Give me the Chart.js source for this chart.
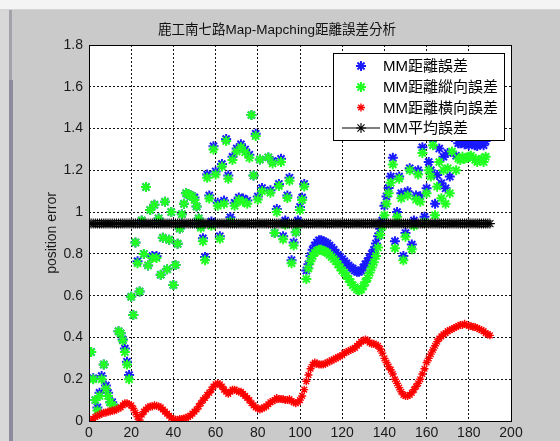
<!DOCTYPE html>
<html>
<head>
<meta charset="utf-8">
<script src="https://cdn.jsdelivr.net/npm/chart.js@4.4.1/dist/chart.umd.min.js"></script>
<style>
  html, body { margin: 0; padding: 0; background: #cacaca; }
  body { width: 560px; height: 441px; position: relative; overflow: hidden; }
  #topbar { position: absolute; left: 0; top: 0; width: 560px; height: 9px; background: #f4f4f4; border-bottom: 1px solid #d6d6d6; }
  #edgeA { position: absolute; left: 0; top: 10px; width: 9px; height: 431px; background: #d8d8d8; }
  #edgeB { position: absolute; left: 9px; top: 10px; width: 3px; height: 431px; background: #a2a2aa; }
  #edgeC { position: absolute; left: 9px; top: 80px; width: 4px; height: 361px; background: #8e8c9c; }
  canvas { position: absolute; left: 0; top: 0; }
</style>
</head>
<body>
<div id="topbar"></div><div id="edgeA"></div><div id="edgeB"></div><div id="edgeC"></div>
<canvas id="chart" width="560" height="441"></canvas>
<script>
// sample number along the route
const sampleNo = Array.from({ length: 190 }, (_, i) => i + 1);

// map-matching distance error
const distErr = [
  0.33, 0.205, 0.10, 0.065, 0.135, 0.215, 0.27, 0.17, 0.135, 0.09,
  0.09, 0.065, null, 0.43, 0.42, 0.39, 0.347, 0.284, 0.22, 0.595,
  0.507, 0.855, 0.765, 0.62, 0.96, 0.80, 1.12, 0.745, 1.01, 0.79,
  1.035, 0.79, 0.97, 0.70, 0.877, 1.05, 0.726, 0.868, 1.0, 0.651,
  0.747, 0.848, 0.922, 0.99, 1.04, 1.09, 1.085, 1.08, 1.075, 1.07,
  1.027, 0.97, 0.935, 0.875, 0.785, 1.18, 1.08, 0.955, 1.315, 1.195,
  1.045, 0.885, 1.23, 1.055, 1.35, 1.175, 0.975, 1.265, 1.045, 1.305,
  1.07, 1.325, 1.065, 1.30, 1.055, 1.275, 1.465, 1.175, 1.375, 1.075,
  1.252, 1.115, null, null, 1.262, 1.105, 1.245, 0.90, 1.015, 1.135,
  1.255, 0.885, 0.96, 1.08, 1.165, 0.77, 0.855, 0.903, 0.96, 1.025,
  1.07, 1.135, 0.72, 0.75, 0.79, 0.82, 0.84, 0.855, 0.865, 0.865,
  0.86, 0.855, 0.85, 0.84, 0.83, 0.82, 0.805, 0.795, 0.785, 0.775,
  0.765, 0.755, 0.745, 0.735, 0.73, 0.72, 0.715, 0.715, 0.72, 0.735,
  0.75, 0.765, 0.78, 0.80, 0.82, 0.85, 0.885, 0.92, 0.96, 1.03,
  1.075, 1.115, 1.17, 1.26, 0.86, 1.0, 1.17, 1.09, 0.79, 0.90,
  1.10, 1.21, 0.845, 0.96, 1.08, 1.20, 1.076, 1.31, 0.978, 1.114,
  1.24, 1.20, 1.35, 1.04, 1.178, 1.304, 1.138, 1.265, 1.114, 1.283,
  1.17, 1.36, null, 1.27, 1.33, 1.33, 1.34, 1.325, 1.33, 1.32,
  1.335, 1.33, 1.32, 1.316, 1.33, 1.33, 1.32, 1.34, null, null
];

// longitudinal component
const longErr = [
  0.33, 0.20, 0.10, 0.05, 0.12, 0.20, 0.27, 0.155, 0.12, 0.09,
  0.075, 0.065, null, 0.43, 0.42, 0.385, 0.33, 0.27, 0.20, 0.595,
  0.507, 0.855, 0.755, 0.62, 0.96, 0.80, 1.12, 0.745, 1.01, 0.78,
  1.035, 0.78, 0.97, 0.70, 0.877, 1.05, 0.726, 0.868, 1.0, 0.651,
  0.747, 0.848, 0.922, 0.99, 1.04, 1.09, 1.085, 1.08, 1.075, 1.058,
  1.027, 0.97, 0.925, 0.86, 0.77, 1.165, 1.065, 0.935, 1.30, 1.18,
  1.03, 0.872, 1.218, 1.04, 1.34, 1.16, 0.955, 1.25, 1.03, 1.29,
  1.058, 1.31, 1.05, 1.286, 1.04, 1.26, 1.465, 1.175, 1.364, 1.06,
  1.252, 1.10, null, null, 1.262, 1.093, 1.233, 0.90, 1.0, 1.125,
  1.24, 0.87, 0.94, 1.068, 1.15, 0.755, 0.84, 0.903, 0.94, 1.01,
  1.058, 1.123, 0.68, 0.73, 0.765, 0.79, 0.805, 0.815, 0.82, 0.82,
  0.815, 0.81, 0.805, 0.795, 0.785, 0.775, 0.765, 0.75, 0.735, 0.72,
  0.71, 0.695, 0.68, 0.665, 0.65, 0.64, 0.63, 0.625, 0.63, 0.645,
  0.665, 0.685, 0.71, 0.735, 0.76, 0.79, 0.83, 0.89, 0.93, 0.985,
  1.04, 1.09, 1.14, 1.228, 0.827, 0.978, 1.16, 1.066, 0.77, 0.882,
  1.08, 1.20, 0.822, 0.935, 1.06, 1.18, 1.05, 1.283, 0.95, 1.09,
  1.20, 1.17, 1.32, 0.985, 1.122, 1.24, 1.066, 1.20, 1.04, 1.21,
  1.09, 1.29, null, 1.20, 1.257, 1.25, 1.265, 1.255, 1.26, 1.265,
  1.27, 1.26, 1.25, 1.24, 1.25, 1.255, 1.24, 1.265, null, null
];

// lateral component
const latErr = [
  0.005, 0.01, 0.02, 0.025, 0.03, 0.035, 0.04, 0.04, 0.045, 0.045,
  0.05, 0.05, 0.055, 0.06, 0.065, 0.075, 0.085, 0.085, 0.08, 0.075,
  0.06, 0.04, 0.02, 0.005, 0.03, 0.045, 0.055, 0.065, 0.07, 0.07,
  0.075, 0.073, 0.07, 0.065, 0.055, 0.045, 0.035, 0.025, 0.015, 0.01,
  0.006, 0.005, 0.01, 0.01, 0.012, 0.015, 0.02, 0.025, 0.035, 0.045,
  0.055, 0.07, 0.085, 0.10, 0.11, 0.125, 0.135, 0.15, 0.165, 0.175,
  0.18, 0.175, 0.165, 0.15, 0.14, 0.13, 0.14, 0.15, 0.15, 0.145,
  0.14, 0.14, 0.13, 0.12, 0.11, 0.10, 0.085, 0.075, 0.065, 0.06,
  0.055, 0.06, 0.065, 0.07, 0.08, 0.09, 0.095, 0.10, 0.11, 0.105,
  0.105, 0.105, 0.10, 0.10, 0.105, 0.095, 0.09, 0.085, 0.09, 0.10,
  0.12, 0.15, 0.19, 0.22, 0.25, 0.27, 0.28, 0.275, 0.27, 0.27,
  0.27, 0.275, 0.28, 0.285, 0.29, 0.295, 0.30, 0.305, 0.31, 0.315,
  0.325, 0.33, 0.335, 0.34, 0.345, 0.35, 0.36, 0.37, 0.38, 0.385,
  0.39, 0.385, 0.375, 0.37, 0.37, 0.365, 0.36, 0.345, 0.325, 0.30,
  0.28, 0.26, 0.245, 0.225, 0.20, 0.18, 0.16, 0.14, 0.125, 0.12,
  0.12, 0.125, 0.135, 0.15, 0.165, 0.18, 0.20, 0.225, 0.25, 0.28,
  0.30, 0.32, 0.34, 0.36, 0.38, 0.395, 0.405, 0.415, 0.42, 0.43,
  0.435, 0.44, 0.445, 0.45, 0.455, 0.46, 0.46, 0.465, 0.46, 0.455,
  0.455, 0.45, 0.45, 0.445, 0.44, 0.435, 0.43, 0.42, 0.415, 0.41
];

// mean map-matching error over the whole run
const meanErr = 0.945;

const xTicks = [0, 20, 40, 60, 80, 100, 120, 140, 160, 180, 200];
const yTicks = [0, 0.2, 0.4, 0.6, 0.8, 1.0, 1.2, 1.4, 1.6, 1.8];

const chartTitle = '鹿工南七路Map-Mapching距離誤差分析';
const yTitle = 'position error';

const LATIN = "'Liberation Sans', Arial, sans-serif";
const MIXED = "'Liberation Sans', Arial, 'Noto Sans CJK TC', 'Noto Sans CJK SC', sans-serif";

const toPoints = ys => sampleNo.map((x, i) => ({ x, y: ys[i] })).filter(p => p.y !== null);

function drawStar(ctx, x, y, r) {
  ctx.beginPath();
  for (let k = 0; k < 4; k++) {
    const a = k * Math.PI / 4;
    ctx.moveTo(x - r * Math.cos(a), y - r * Math.sin(a));
    ctx.lineTo(x + r * Math.cos(a), y + r * Math.sin(a));
  }
  ctx.stroke();
}

// white plot box, solid frame, legend box and title
const matlabFrame = {
  id: 'matlabFrame',
  beforeDraw(chart) {
    const ctx = chart.ctx, a = chart.chartArea;
    ctx.save();
    ctx.fillStyle = '#ffffff';
    ctx.fillRect(a.left, a.top, a.right - a.left, a.bottom - a.top);
    ctx.restore();
  },
  afterDatasetsDraw(chart) {
    const ctx = chart.ctx, a = chart.chartArea;
    ctx.save();
    ctx.strokeStyle = '#000';
    ctx.lineWidth = 1;
    ctx.setLineDash([]);
    ctx.strokeRect(Math.round(a.left) + 0.5, Math.round(a.top) + 0.5,
                   Math.round(a.right - a.left), Math.round(a.bottom - a.top));

    // legend
    const box = { left: 333.5, top: 53.5, width: 171, height: 87 };
    ctx.fillStyle = '#ffffff';
    ctx.fillRect(box.left, box.top, box.width, box.height);
    ctx.strokeStyle = '#000';
    ctx.strokeRect(box.left, box.top, box.width, box.height);
    const rows = [66, 87, 107.5, 128];
    ctx.font = '15px ' + MIXED;
    ctx.textBaseline = 'middle';
    ctx.textAlign = 'left';
    chart.data.datasets.forEach((ds, i) => {
      const cy = rows[i];
      ctx.strokeStyle = ds.pointBorderColor;
      if (ds.showLine) {
        ctx.lineWidth = ds.borderWidth;
        ctx.beginPath(); ctx.moveTo(342, cy); ctx.lineTo(380, cy); ctx.stroke();
      }
      ctx.lineWidth = ds.pointBorderWidth;
      drawStar(ctx, 361, cy, ds.pointRadius);
      ctx.fillStyle = '#000';
      ctx.fillText(ds.label, 383, cy + 1);
    });

    // title
    ctx.font = '13.5px ' + MIXED;
    ctx.fillStyle = '#111';
    ctx.textAlign = 'center';
    ctx.textBaseline = 'middle';
    ctx.fillText(chartTitle, 277, 30);
    ctx.restore();
  }
};

const dottedGrid = { display: true, color: '#141414', lineWidth: 1, drawTicks: false, drawOnChartArea: true };

new Chart(document.getElementById('chart'), {
  type: 'scatter',
  data: {
    datasets: [
      { label: 'MM距離誤差', data: toPoints(distErr), showLine: false,
        pointStyle: 'star', pointRadius: 5, pointBorderWidth: 2,
        pointBorderColor: '#1a1aff', borderColor: '#1a1aff', order: 4 },
      { label: 'MM距離縱向誤差', data: toPoints(longErr), showLine: false,
        pointStyle: 'star', pointRadius: 5, pointBorderWidth: 2,
        pointBorderColor: '#22ff22', borderColor: '#22ff22', order: 3 },
      { label: 'MM距離橫向誤差', data: toPoints(latErr), showLine: false,
        pointStyle: 'star', pointRadius: 4, pointBorderWidth: 1.4,
        pointBorderColor: '#ff0000', borderColor: '#ff0000', order: 2 },
      { label: 'MM平均誤差', data: sampleNo.map(x => ({ x, y: meanErr })), showLine: true,
        borderColor: '#000', borderWidth: 1.2,
        pointStyle: 'star', pointRadius: 5, pointBorderWidth: 1.1,
        pointBorderColor: '#000', order: 1 }
    ]
  },
  options: {
    responsive: false,
    animation: false,
    devicePixelRatio: 1,
    layout: { padding: { top: 45, right: 49, left: 0, bottom: 0 } },
    plugins: { legend: { display: false }, title: { display: false }, tooltip: { enabled: false } },
    scales: {
      x: {
        type: 'linear', min: 0, max: 200,
        afterBuildTicks: s => { s.ticks = xTicks.map(v => ({ value: v })); },
        afterFit: s => { s.height = 20; },
        grid: dottedGrid,
        border: { display: false, dash: [2, 2] },
        ticks: { padding: 4, maxRotation: 0, autoSkip: false, color: '#1a1a1a',
                 font: { family: LATIN, size: 14 } }
      },
      y: {
        type: 'linear', min: 0, max: 1.8,
        afterBuildTicks: s => { s.ticks = yTicks.map(v => ({ value: v })); },
        afterFit: s => { s.width = 89; },
        grid: dottedGrid,
        border: { display: false, dash: [2, 2] },
        ticks: { padding: 6, autoSkip: false, color: '#1a1a1a',
                 font: { family: LATIN, size: 14 },
                 callback: v => String(+v.toFixed(1)) },
        title: { display: true, text: yTitle, color: '#1a1a1a',
                 font: { family: LATIN, size: 14 }, padding: { top: 44, bottom: 0 } }
      }
    }
  },
  plugins: [matlabFrame]
});
</script>
</body>
</html>
